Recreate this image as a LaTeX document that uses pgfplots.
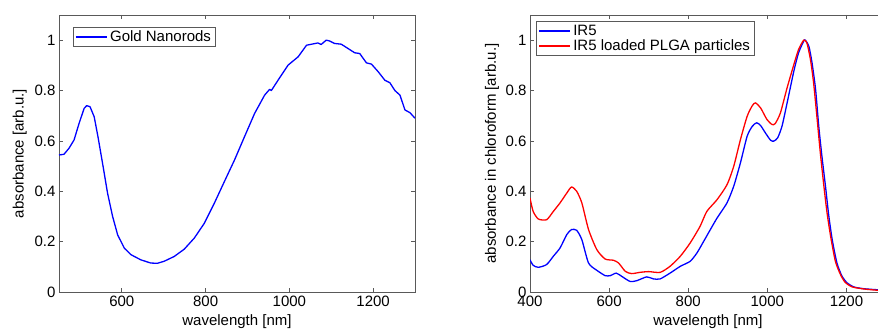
\documentclass[border=0pt]{standalone}
\usepackage{fontspec}
\setmainfont{Liberation Sans}
\usepackage{pgfplots}
\pgfplotsset{compat=1.18}
\definecolor{axgray}{gray}{0.35}
\pgfplotsset{
  myax/.style={
    scale only axis, width=356pt, height=277pt,
    anchor=south west,
    ymin=0, ymax=1.1,
    ytick={0,0.2,0.4,0.6,0.8,1},
    yticklabels={0,0.2,0.4,0.6,0.8,1},
    tick align=inside, xtick pos=both, ytick pos=both,
    major tick length=4pt,
    axis line style={axgray, line width=0.9pt},
    every tick/.style={axgray, line width=0.8pt},
    font=\fontsize{15}{18}\selectfont,
    /pgf/number format/assume math mode=true,
    /pgf/number format/1000 sep={},
    xlabel style={at={(axis description cs:0.5,-0.108)}, anchor=center},
    legend cell align=left,
    legend image code/.code={\draw[#1] (0pt,0pt) -- (31pt,0pt);},
    legend style={draw=axgray, line width=0.8pt, fill=white, inner xsep=2pt, inner ysep=1pt,
      nodes={inner sep=2.5pt}, row sep=-2pt, font=\fontsize{15}{18}\selectfont},
  }
}
\begin{document}
\begin{tikzpicture}
\begin{axis}[myax, at={(59pt,40pt)},
  xmin=450, xmax=1300, xtick={600,800,1000,1200},
  xlabel={wavelength [nm]}, ylabel={absorbance [arb.u.]},
  ylabel style={at={(axis description cs:-0.11,0.5)}, anchor=center},
  legend style={at={(axis description cs:0.039,0.957)}, anchor=north west}]
\addplot[blue, line width=1.3pt, line join=round] coordinates {
(450,0.544)(462,0.547)(474,0.571)(486,0.604)(498,0.67)(510,0.729)(516,0.74)(524,0.736)
(534,0.696)(543,0.617)(554,0.511)(566,0.392)(578,0.30)(590,0.227)(606,0.174)(622,0.148)
(645,0.128)(669,0.115)(685,0.114)(701,0.122)(725,0.141)(749,0.170)(773,0.214)(797,0.273)
(821,0.353)(845,0.439)(869,0.524)(893,0.617)(917,0.709)(941,0.782)(953,0.805)(957,0.80)
(973,0.841)(997,0.901)(1021,0.934)(1041,0.98)(1068,0.989)(1076,0.983)(1088,1.0)(1096,0.997)
(1108,0.987)(1124,0.984)(1140,0.967)(1156,0.95)(1168,0.947)(1184,0.91)(1196,0.905)
(1212,0.875)(1228,0.841)(1240,0.831)(1252,0.80)(1264,0.782)(1276,0.723)(1288,0.712)(1300,0.69)
};
\addlegendentry{Gold Nanorods}
\end{axis}
\begin{axis}[myax, at={(530pt,40pt)},
  xmin=400, xmax=1300, xtick={400,600,800,1000,1200},
  xlabel={wavelength [nm]}, ylabel={absorbance in chloroform [arb.u.]},
  ylabel style={at={(axis description cs:-0.107,0.5)}, anchor=center},
  legend style={at={(axis description cs:0.017,0.978)}, anchor=north west}]
\addplot[blue, line width=1.3pt, smooth, tension=0.4] coordinates {
(400,0.128)(408,0.106)(421,0.098)(442,0.109)(459,0.142)(476,0.175)(493,0.228)(505,0.248)
(518,0.245)(531,0.208)(548,0.115)(569,0.086)(590,0.065)(603,0.065)(618,0.075)(632,0.062)
(653,0.042)(670,0.045)(695,0.06)(712,0.052)(729,0.052)(754,0.075)(780,0.102)(805,0.122)
(822,0.155)(839,0.201)(856,0.248)(873,0.294)(898,0.354)(915,0.42)(932,0.513)(949,0.619)
(962,0.658)(973,0.672)(983,0.661)(995,0.632)(1008,0.603)(1016,0.599)(1026,0.612)(1037,0.658)
(1050,0.751)(1067,0.877)(1079,0.95)(1092,0.996)(1096,1.0)(1105,0.976)(1113,0.91)(1122,0.804)
(1130,0.658)(1138,0.539)(1147,0.42)(1155,0.307)(1164,0.208)(1176,0.115)(1189,0.062)
(1202,0.036)(1219,0.02)(1244,0.013)(1278,0.009)(1300,0.008)
};
\addlegendentry{IR5}
\addplot[red, line width=1.3pt, smooth, tension=0.4] coordinates {
(400,0.373)(408,0.32)(421,0.29)(442,0.287)(459,0.32)(476,0.354)(493,0.393)(505,0.417)
(518,0.40)(531,0.354)(548,0.248)(569,0.168)(590,0.131)(611,0.126)(624,0.115)(641,0.082)
(657,0.073)(678,0.078)(700,0.081)(729,0.078)(754,0.102)(780,0.142)(805,0.195)(830,0.261)
(847,0.32)(873,0.367)(898,0.426)(915,0.499)(932,0.605)(949,0.698)(962,0.74)(970,0.751)
(983,0.731)(999,0.685)(1012,0.665)(1020,0.669)(1033,0.711)(1050,0.811)(1067,0.903)
(1079,0.963)(1092,1.0)(1100,0.989)(1109,0.923)(1117,0.83)(1126,0.685)(1134,0.552)
(1143,0.42)(1151,0.314)(1160,0.221)(1172,0.122)(1185,0.069)(1197,0.038)(1215,0.02)
(1244,0.012)(1278,0.007)(1300,0.006)
};
\addlegendentry{IR5 loaded PLGA particles}
\end{axis}
\pgfresetboundingbox
\useasboundingbox (0,0) rectangle (878pt,332pt);
\end{tikzpicture}
\end{document}
